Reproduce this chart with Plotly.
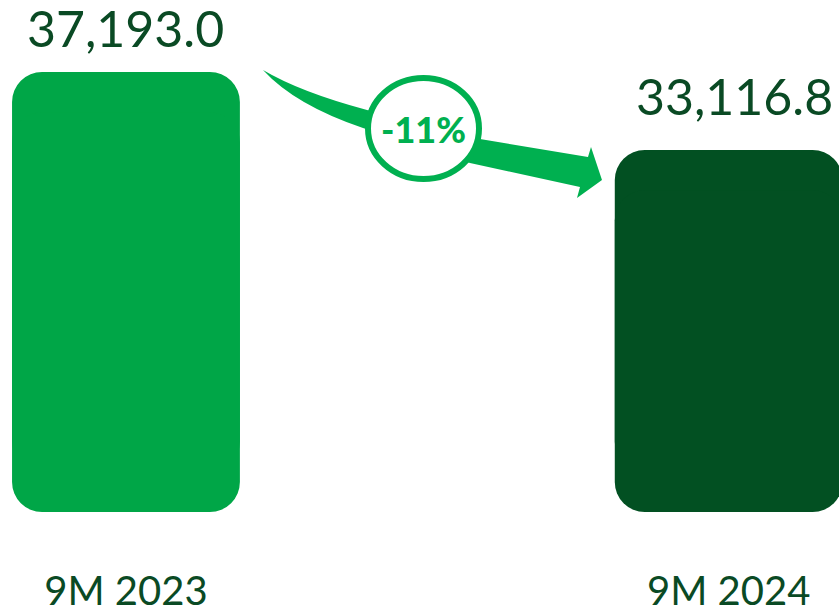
import plotly.graph_objects as go

# ---- data ----
categories = ["9M 2023", "9M 2024"]
values = [37193.0, 33116.8]
value_labels = ["37,193.0", "33,116.8"]
change_label = "-11%"
axis_base = 14200.0   # value axis starts here (truncated axis)
axis_top = 40956.0

bar_colors = ["#00A647", "#025022"]
text_color = "#0A4A24"
arrow_color = "#00B050"

W, H = 839, 607
MB = 95
PH = H - MB
overlap = 2100.0

fig = go.Figure()
xs = list(range(len(categories)))
# upper piece: rounded top corners
fig.add_trace(go.Bar(x=xs, y=[v - (axis_base + overlap) for v in values],
                     base=[axis_base + overlap] * len(values),
                     marker=dict(color=bar_colors, line=dict(width=0)), width=0.378,
                     hoverinfo="skip", showlegend=False))
# lower piece: rounded bottom corners (negative bar from near top down to base)
fig.add_trace(go.Bar(x=xs, y=[axis_base - (v - overlap) for v in values],
                     base=[v - overlap for v in values],
                     marker=dict(color=bar_colors, line=dict(width=0)), width=0.378,
                     hoverinfo="skip", showlegend=False))

label_xshift = [0, 6]
label_yshift = [12, 22]
for i, (v, lab) in enumerate(zip(values, value_labels)):
    fig.add_annotation(x=i, y=v, text=lab, showarrow=False, yanchor="bottom",
                       yshift=label_yshift[i], xshift=label_xshift[i],
                       font=dict(family="Lato", size=50, color=text_color, weight=400))

def P(px, py):
    return f"{px / W:.5f},{1 - py / PH:.5f}"

path = ("M " + P(263, 70) + " Q " + P(300, 92) + " " + P(367, 110) +
        " L " + P(480, 139) + " L " + P(588, 157) + " L " + P(591, 147) +
        " L " + P(602, 180) + " L " + P(577, 198) + " L " + P(580, 187) +
        " L " + P(470, 163) + " L " + P(363, 128) + " Q " + P(295, 105) + " " + P(263, 70) + " Z")
fig.add_shape(type="path", path=path, xref="paper", yref="paper",
              fillcolor=arrow_color, line=dict(width=0), layer="above")
fig.add_shape(type="circle", xref="paper", yref="paper",
              x0=368 / W, x1=479 / W, y0=1 - 179 / PH, y1=1 - 78 / PH,
              fillcolor="white", line=dict(color=arrow_color, width=6), layer="above")
fig.add_annotation(x=423 / W, y=1 - 129 / PH, xref="paper", yref="paper", text=change_label,
                   xanchor="center", yanchor="middle", showarrow=False,
                   font=dict(family="Lato", size=36, color=arrow_color, weight=900))

fig.update_layout(
    width=W, height=H, barmode="overlay", barcornerradius=30,
    margin=dict(l=0, r=0, t=0, b=MB),
    paper_bgcolor="white", plot_bgcolor="white",
    xaxis=dict(range=[-0.209, 1.183], tickvals=xs, ticktext=categories, automargin=False,
               showgrid=False, zeroline=False, showline=False, ticks="",
               ticklabelstandoff=52, tickfont=dict(family="Lato", size=40, color=text_color, weight=400)),
    yaxis=dict(range=[axis_base, axis_top], visible=False, showgrid=False, zeroline=False,
               automargin=False),
)
fig.write_html("out.html", config={"displayModeBar": False},
               post_script="document.body.style.margin='0';document.body.style.overflow='hidden';")
